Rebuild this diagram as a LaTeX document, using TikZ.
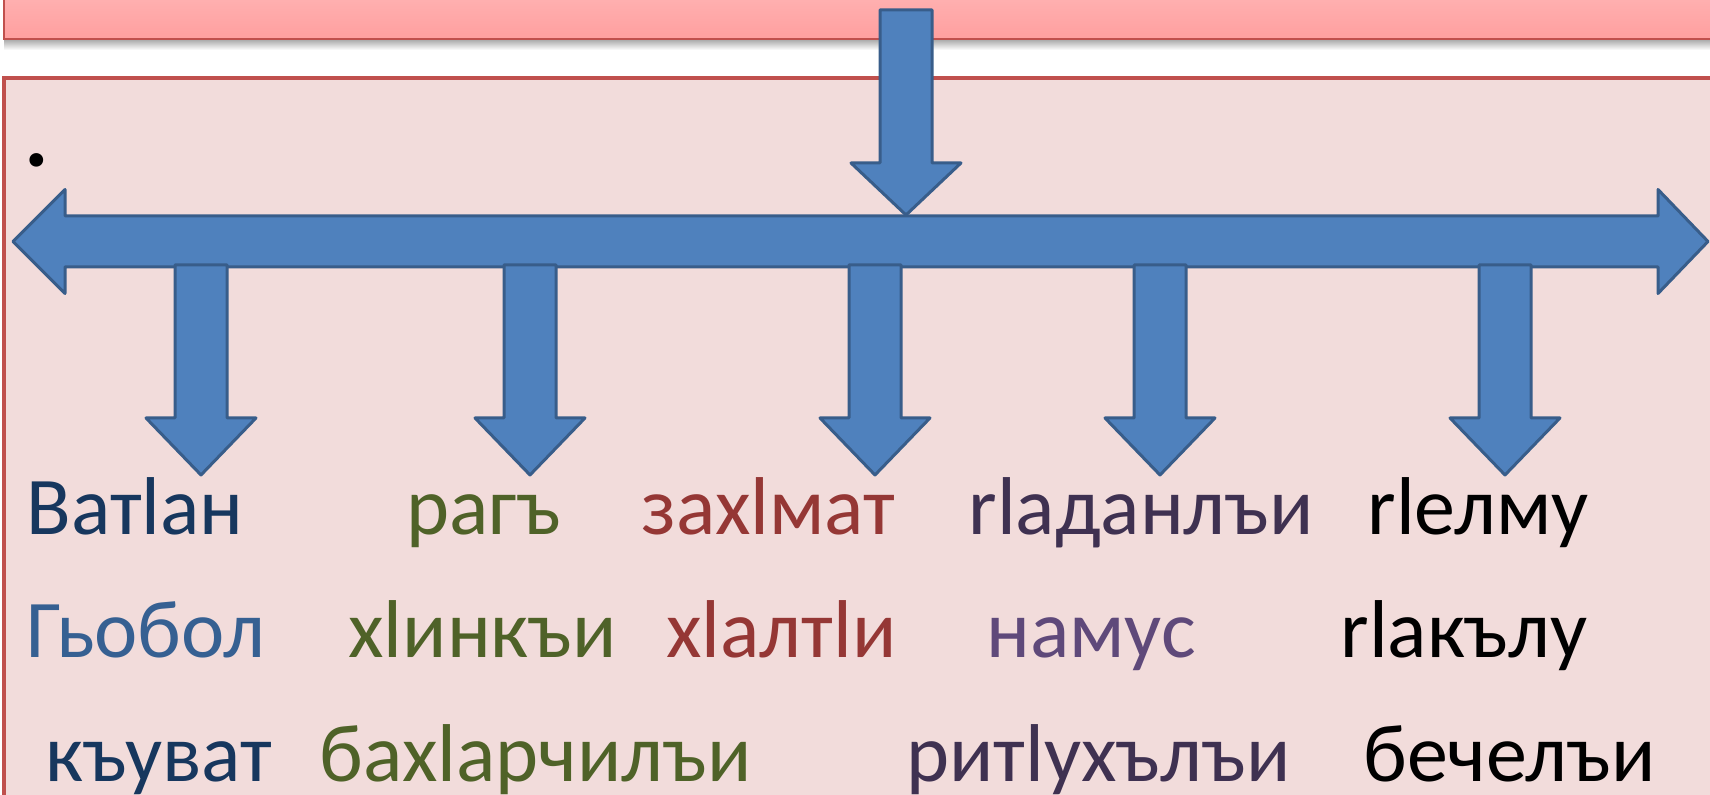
\documentclass[tikz,border=0pt]{standalone}
\usepackage{fontspec}
\setmainfont{Carlito}
\definecolor{arrowfill}{HTML}{4F81BD}
\definecolor{arrowline}{HTML}{385D8A}
\definecolor{boxfill}{HTML}{F2DCDB}
\definecolor{boxline}{HTML}{C0504D}
\definecolor{barlight}{HTML}{FFB3B3}
\definecolor{bardark}{HTML}{FF9F9F}
\definecolor{navy}{HTML}{17375E}
\definecolor{steel}{HTML}{366092}
\definecolor{olive}{HTML}{4F6228}
\definecolor{brick}{HTML}{953735}
\definecolor{plum}{HTML}{3F3151}
\definecolor{lilac}{HTML}{5F497A}
\tikzset{
  blockarrow/.style={fill=arrowfill, draw=arrowline, line width=1.5pt, line join=round},
  word/.style={font=\fontsize{41}{49}\selectfont, inner sep=0pt, anchor=base west},
}

\begin{document}
\begin{tikzpicture}[x=0.5pt, y=-0.5pt]
    \useasboundingbox (0,0) rectangle (1710,795);
    \clip (0,0) rectangle (1710,795);
    % title bar
    \shade[top color=black!35, bottom color=white] (4,39) rectangle (1710,50);
    \draw[boxline, line width=1pt, top color=barlight, bottom color=bardark] (4,-10) rectangle (1720,39);
    % frame
    \draw[boxline, fill=boxfill, line width=2pt] (4,78) rectangle (1720,810);
    \node[word, font=\fontsize{46}{52}\selectfont\bfseries] (dot) at (24,167) {.};
    % arrows
    \draw[blockarrow] (880,10) -- (932,10) -- (932,163) -- (961,163) -- (906,215) -- (851,163) -- (880,163) -- cycle;
    \draw[blockarrow] (13,241.5) -- (65,189.5) -- (65,216) -- (1658,216) -- (1658,189.5) -- (1708,241.5)
        -- (1658,293.5) -- (1658,267) -- (65,267) -- (65,293.5) -- cycle;
    \foreach \cx in {201,530,875,1160,1505}
        \draw[blockarrow] (\cx-26,265) -- (\cx+26,265) -- (\cx+26,418) -- (\cx+55,418) -- (\cx,475)
            -- (\cx-55,418) -- (\cx-26,418) -- cycle;
    % words
    \node[word, navy]  (batlan)  at (26,535)  {Ватlан};
    \node[word, olive] (ragh)    at (406,535) {рагъ};
    \node[word, brick] (zahmat)  at (641,535) {захlмат};
    \node[word, plum]  (gadan)   at (968,535) {rlаданлъи};
    \node[word]        (gelmu)   at (1367,535) {rlелму};
    \node[word, steel] (gobol)   at (26,658)  {Гьобол};
    \node[word, olive] (hinki)   at (348,658) {хlинкъи};
    \node[word, brick] (halti)   at (666,658) {хlалтlи};
    \node[word, lilac] (namus)   at (986,658) {намус};
    \node[word]        (gakulu)  at (1340,658) {rlакълу};
    \node[word, navy]  (kuvat)   at (45,782)  {къуват};
    \node[word, olive] (bahar)   at (319,782) {бахlарчилъи};
    \node[word, plum]  (ritl)    at (906,782) {ритlухълъи};
    \node[word]        (becheli) at (1363,782) {бечелъи};
\end{tikzpicture}
\end{document}
